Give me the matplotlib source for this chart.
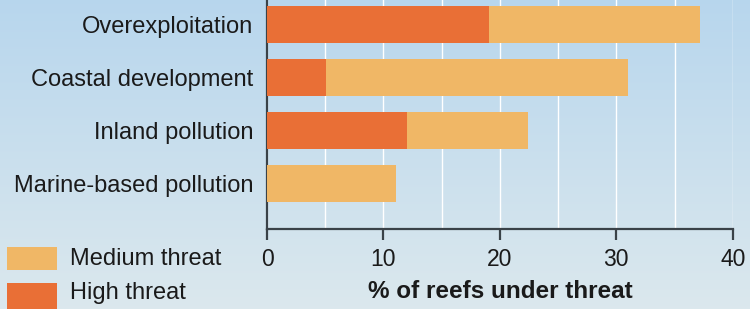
import numpy as np
import matplotlib
matplotlib.use("Agg")
import matplotlib.pyplot as plt
from matplotlib.patches import Rectangle

# threats to reefs, % of reefs under threat
threats = ["Overexploitation", "Coastal development", "Inland pollution", "Marine-based pollution"]
high = [19.1, 5.1, 12.0, 0.0]
medium = [18.1, 25.9, 10.4, 11.1]
xticks = [0, 10, 20, 30, 40]

HIGH_COL = "#e96f36"
MED_COL = "#f0b766"
AXIS_COL = "#3a4248"
TXT_COL = "#1a1a1a"

plt.rcParams['font.family'] = ['Liberation Sans', 'DejaVu Sans']

fig = plt.figure(figsize=(7.5, 3.09), dpi=100)

# gradient background
bg = fig.add_axes([0, 0, 1, 1], zorder=-10)
grad = np.linspace(0, 1, 256).reshape(-1, 1)
top = np.array([0.72, 0.84, 0.93])
bottom = np.array([0.86, 0.91, 0.93])
img = top[None, None, :] * (1 - grad[:, :, None]) + bottom[None, None, :] * grad[:, :, None]
bg.imshow(img, aspect="auto", extent=[0, 1, 0, 1])
bg.set_axis_off()

ax = fig.add_axes([0.356, 0.259, 0.621, 0.741])
ax.set_facecolor("none")

y = np.arange(len(threats))
ax.barh(y, high, height=0.7, color=HIGH_COL, zorder=3)
ax.barh(y, medium, left=high, height=0.7, color=MED_COL, zorder=3)

ax.set_xlim(0, 40)
ax.set_ylim(3.85, -0.47)
ax.set_xticks(xticks)
ax.set_xticks(np.arange(0, 41, 5), minor=True)
ax.xaxis.grid(True, which="both", color="white", linewidth=1.0, zorder=0)
ax.set_axisbelow(True)

ax.set_yticks(y)
ax.set_yticklabels(threats, fontsize=17, color=TXT_COL)
ax.tick_params(axis="y", length=0, pad=10)
ax.tick_params(axis="x", which="major", length=8, width=1.6, color=AXIS_COL,
               labelsize=16.5, pad=6, labelcolor=TXT_COL)
ax.tick_params(axis="x", which="minor", length=0)

for s in ["top", "right"]:
    ax.spines[s].set_visible(False)
for s in ["left", "bottom"]:
    ax.spines[s].set_color(AXIS_COL)
    ax.spines[s].set_linewidth(1.6)

ax.set_xlabel("% of reefs under threat", fontsize=17.5, fontweight="bold",
              color=TXT_COL, labelpad=6)

# legend drawn at the lower left
fig.add_artist(Rectangle((7 / 750, 1 - 270 / 309), 50 / 750, 23 / 309,
                         transform=fig.transFigure, facecolor=MED_COL, edgecolor="none"))
fig.add_artist(Rectangle((7 / 750, 1 - 309 / 309), 50 / 750, 26 / 309,
                         transform=fig.transFigure, facecolor=HIGH_COL, edgecolor="none"))
fig.text(70 / 750, 1 - 259 / 309, "Medium threat", fontsize=17, va="center", color=TXT_COL)
fig.text(70 / 750, 1 - 293 / 309, "High threat", fontsize=17, va="center", color=TXT_COL)

fig.savefig("out.png", dpi=100)
